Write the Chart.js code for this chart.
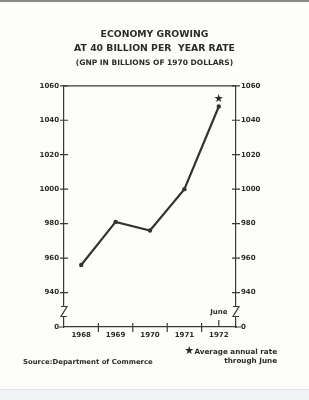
<!DOCTYPE html>
<html>
<head>
<meta charset="utf-8">
<script src="https://cdn.jsdelivr.net/npm/chart.js@4.4.1/dist/chart.umd.min.js"></script>
<style>
  html, body { margin: 0; padding: 0; background: #fdfdfa; }
  #wrap { position: relative; width: 309px; height: 400px; }
  #topline { position: absolute; left: 0; top: 0; width: 309px; height: 2px; background: #8a8a8a; }
  #bottom { position: absolute; left: 0; top: 389px; width: 309px; height: 11px; background: #f1f3f6; border-top: 1px solid #e2e4e6; }
  canvas { position: absolute; left: 0; top: 0; }
</style>
</head>
<body>
<div id="wrap">
  <div id="topline"></div>
  <div id="bottom"></div>
  <canvas id="chart" width="309" height="400"></canvas>
</div>
<script>
const years = [1968, 1969, 1970, 1971, 1972];
const gnp = [956, 981, 976, 1000, 1048];
const yTicks = [920, 940, 960, 980, 1000, 1020, 1040, 1060];
const yearBounds = [1968.5, 1969.5, 1970.5, 1971.5];
const breakValue = 929;

const ink = "#2b2b2b";
const fontFamily = "'DejaVu Sans', sans-serif";

const extras = {
  id: "extras",
  afterDraw(chart) {
    const ctx = chart.ctx;
    const area = chart.chartArea;
    const x = chart.scales.x;
    const yl = chart.scales.y;

    ctx.save();
    ctx.strokeStyle = "#3a3a3a";
    ctx.lineWidth = 1.2;

    // top border
    ctx.beginPath();
    ctx.moveTo(area.left, area.top);
    ctx.lineTo(area.right, area.top);
    ctx.stroke();

    // y tick marks crossing the axes
    yTicks.forEach((v) => {
      const py = yl.getPixelForValue(v);
      ctx.beginPath();
      if (v === yTicks[0]) {
        ctx.moveTo(area.left - 5, py); ctx.lineTo(area.left, py);
        ctx.moveTo(area.right, py); ctx.lineTo(area.right + 5, py);
      } else {
        ctx.moveTo(area.left - 4, py); ctx.lineTo(area.left + 4, py);
        ctx.moveTo(area.right - 4, py); ctx.lineTo(area.right + 4, py);
      }
      ctx.stroke();
    });

    // x year boundary marks
    yearBounds.forEach((v) => {
      const px = x.getPixelForValue(v);
      ctx.beginPath();
      ctx.moveTo(px, area.bottom - 4);
      ctx.lineTo(px, area.bottom + 5);
      ctx.stroke();
    });

    // June tick
    const jx = x.getPixelForValue(1972);
    ctx.beginPath();
    ctx.moveTo(jx, area.bottom - 7);
    ctx.lineTo(jx, area.bottom);
    ctx.stroke();

    // axis break marks
    const by = yl.getPixelForValue(breakValue);
    [area.left, area.right].forEach((ax) => {
      ctx.fillStyle = "#fdfdfa";
      ctx.fillRect(ax - 1, by - 5, 3, 10);
      ctx.beginPath();
      ctx.moveTo(ax - 3, by - 5);
      ctx.lineTo(ax + 3, by - 5);
      ctx.lineTo(ax - 3, by + 5);
      ctx.lineTo(ax + 3, by + 5);
      ctx.stroke();
    });

    ctx.fillStyle = ink;
    ctx.textAlign = "center";
    ctx.textBaseline = "middle";
    ctx.font = "bold 7px " + fontFamily;
    ctx.fillText("June", jx, area.bottom - 15);

    // star on the last point
    const last = chart.getDatasetMeta(0).data[gnp.length - 1];
    ctx.font = "11px " + fontFamily;
    ctx.fillText("\u2605", last.x, last.y - 7);

    // footer
    ctx.textAlign = "left";
    ctx.font = "bold 6.9px " + fontFamily;
    ctx.fillText("Source:Department of Commerce", 23, 362);
    ctx.font = "bold 7.2px " + fontFamily;
    ctx.textAlign = "right";
    ctx.fillText("Average annual rate", 277, 352);
    ctx.fillText("through June", 277, 361.5);
    const tw = ctx.measureText("Average annual rate").width;
    ctx.font = "11px " + fontFamily;
    ctx.fillText("\u2605", 277 - tw - 0.5, 351.5);
    ctx.restore();
  }
};

const tickFont = { family: fontFamily, size: 7, weight: "bold" };

new Chart(document.getElementById("chart"), {
  type: "line",
  data: {
    labels: years,
    datasets: [{
      data: years.map((yr, i) => ({ x: yr, y: gnp[i] })),
      borderColor: "#333333",
      borderWidth: 2.2,
      pointRadius: 2.2,
      pointBackgroundColor: "#333333",
      pointBorderWidth: 0,
      tension: 0,
      yAxisID: "y"
    }]
  },
  options: {
    responsive: false,
    animation: false,
    layout: { padding: 0 },
    plugins: {
      legend: { display: false },
      tooltip: { enabled: false },
      title: {
        display: true,
        text: ["ECONOMY GROWING", "AT 40 BILLION PER  YEAR RATE"],
        color: ink,
        font: { family: fontFamily, size: 9.3, weight: "bold", lineHeight: 1.44 },
        padding: { top: 28, bottom: 3.5 }
      },
      subtitle: {
        display: true,
        text: "(GNP IN BILLIONS OF 1970 DOLLARS)",
        color: ink,
        font: { family: fontFamily, size: 7.5, weight: "bold", lineHeight: 1.2 },
        padding: { top: 0, bottom: 18.5 }
      }
    },
    scales: {
      x: {
        type: "linear",
        min: 1967.5,
        max: 1972.5,
        afterBuildTicks: (s) => { s.ticks = years.map((v) => ({ value: v })); },
        afterFit: (s) => { s.height = 73; },
        grid: { display: false, drawTicks: false },
        border: { display: true, color: "#3a3a3a", width: 1.2 },
        ticks: {
          padding: 3.5,
          color: ink,
          font: tickFont,
          callback: (v) => String(v),
          maxRotation: 0
        }
      },
      y: {
        position: "left",
        min: 920,
        max: 1060,
        afterBuildTicks: (s) => { s.ticks = yTicks.map((v) => ({ value: v })); },
        afterFit: (s) => { s.width = 64; },
        grid: { display: false, drawTicks: false },
        border: { display: true, color: "#3a3a3a", width: 1.2 },
        ticks: {
          padding: 5,
          color: ink,
          font: tickFont,
          callback: (v) => (v === 920 ? "0" : String(v))
        }
      },
      y2: {
        position: "right",
        min: 920,
        max: 1060,
        afterBuildTicks: (s) => { s.ticks = yTicks.map((v) => ({ value: v })); },
        afterFit: (s) => { s.width = 73; },
        grid: { display: false, drawTicks: false },
        border: { display: true, color: "#3a3a3a", width: 1.2 },
        ticks: {
          padding: 5,
          color: ink,
          font: tickFont,
          callback: (v) => (v === 920 ? "0" : String(v))
        }
      }
    }
  },
  plugins: [extras]
});
</script>
</body>
</html>
